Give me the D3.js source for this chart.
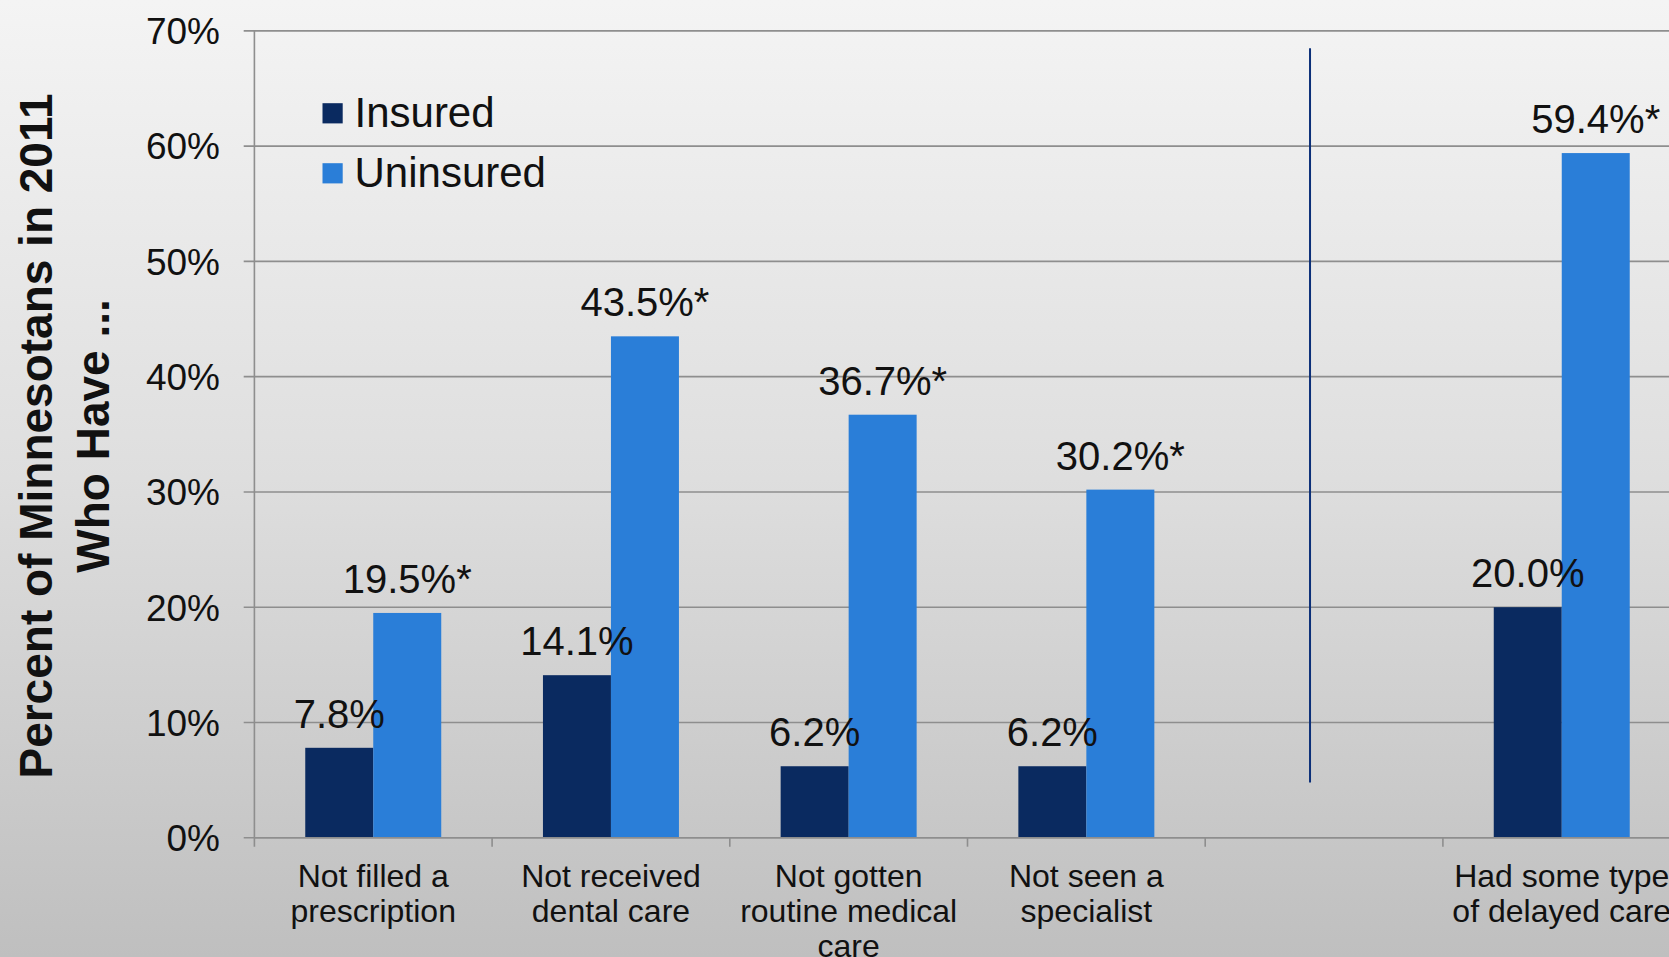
<!DOCTYPE html>
<html>
<head>
<meta charset="utf-8">
<script src="https://cdn.jsdelivr.net/npm/d3@7"></script>
<style>
html,body{margin:0;padding:0;overflow:hidden;background:#ddd;}
svg{display:block;}
text{font-family:"Liberation Sans",Arial,sans-serif;}
</style>
</head>
<body>
<script>
// ---- data ----
const categories = ["Not filled a prescription", "Not received dental care", "Not gotten routine medical care", "Not seen a specialist", "", "Had some type of delayed care"];
const series = ["Insured", "Uninsured"];
const insured = [0.078, 0.141, 0.062, 0.062, null, 0.200];
const uninsured = [0.195, 0.435, 0.367, 0.302, null, 0.594];
const insuredLabels = ["7.8%", "14.1%", "6.2%", "6.2%", "", "20.0%"];
const uninsuredLabels = ["19.5%*", "43.5%*", "36.7%*", "30.2%*", "", "59.4%*"];
const yTicks = [0, 0.1, 0.2, 0.3, 0.4, 0.5, 0.6, 0.7];
const yTitle = ["Percent of Minnesotans in 2011", "Who Have ..."];
const colors = {Insured: "#0a2a60", Uninsured: "#2a7ed8"};

// ---- layout ----
const W = 1669, H = 957;
const mLeft = 254.4, mTop = 30.9, mBottom = 837.7;
const step = 237.7;

const svg = d3.select("body").append("svg").attr("width", W).attr("height", H);
const defs = svg.append("defs");
const grad = defs.append("linearGradient").attr("id","bg").attr("x1",0).attr("y1",0).attr("x2",0).attr("y2",1);
grad.append("stop").attr("offset","0%").attr("stop-color","#f4f4f4");
grad.append("stop").attr("offset","50%").attr("stop-color","#dedede");
grad.append("stop").attr("offset","100%").attr("stop-color","#bfbfbf");
svg.append("rect").attr("width",W).attr("height",H).attr("fill","url(#bg)");

const x = d3.scaleBand().domain(d3.range(categories.length)).range([mLeft, mLeft + step*categories.length]).padding(0);
const x1 = d3.scaleBand().domain(series).range([0, x.bandwidth()]).paddingInner(0).paddingOuter(0.748);
const y = d3.scaleLinear().domain([0, 0.7]).range([mBottom, mTop]);

// gridlines
svg.append("g").selectAll("line").data(yTicks).join("line")
  .attr("x1", mLeft - 10.7).attr("x2", W)
  .attr("y1", d => y(d)).attr("y2", d => y(d))
  .attr("stroke", "#8e8e8e").attr("stroke-width", 1.6);

// y axis line
svg.append("line").attr("x1", mLeft).attr("x2", mLeft).attr("y1", y(0.7)).attr("y2", mBottom + 9)
  .attr("stroke", "#8e8e8e").attr("stroke-width", 1.6);

// category ticks
svg.append("g").selectAll("line").data(d3.range(1, categories.length)).join("line")
  .attr("x1", d => x(d)).attr("x2", d => x(d)).attr("y1", mBottom).attr("y2", mBottom + 9)
  .attr("stroke", "#8e8e8e").attr("stroke-width", 1.6);

// y tick labels
svg.append("g").selectAll("text").data(yTicks).join("text")
  .attr("x", 220).attr("y", d => y(d)).attr("dy", "0.36em")
  .attr("text-anchor", "end").attr("font-size", 37).attr("fill", "#111")
  .text(d => d3.format(".0%")(d));

// bars
const data = [];
categories.forEach((c, i) => {
  if (insured[i] != null) data.push({i, s: "Insured", v: insured[i], lab: insuredLabels[i]});
  if (uninsured[i] != null) data.push({i, s: "Uninsured", v: uninsured[i], lab: uninsuredLabels[i]});
});
svg.append("g").selectAll("rect").data(data).join("rect")
  .attr("x", d => x(d.i) + x1(d.s)).attr("width", x1.bandwidth())
  .attr("y", d => y(d.v)).attr("height", d => y(0) - y(d.v))
  .attr("fill", d => colors[d.s]);

// x axis baseline
svg.append("line").attr("x1", mLeft).attr("x2", W).attr("y1", mBottom).attr("y2", mBottom)
  .attr("stroke", "#8e8e8e").attr("stroke-width", 1.6);

// value labels
svg.append("g").selectAll("text").data(data).join("text")
  .attr("x", d => x(d.i) + x1(d.s) + x1.bandwidth()/2)
  .attr("y", d => y(d.v) - 20)
  .attr("text-anchor", "middle").attr("font-size", 40).attr("fill", "#111")
  .text(d => d.lab);

// divider line
svg.append("line")
  .attr("x1", x(4) + x.bandwidth()*0.441).attr("x2", x(4) + x.bandwidth()*0.441)
  .attr("y1", y(0.685)).attr("y2", y(0.048))
  .attr("stroke", "#0b2f78").attr("stroke-width", 2);

// category labels with wrapping
const catG = svg.append("g");
categories.forEach((c, i) => {
  const cx = x(i) + x.bandwidth()/2;
  const t = catG.append("text").attr("text-anchor", "middle").attr("font-size", 32).attr("fill", "#111")
    .attr("x", cx).attr("y", 886.7);
  const words = c.split(" ").filter(w => w.length);
  let line = [];
  let ts = t.append("tspan").attr("x", cx).attr("dy", 0);
  words.forEach(w => {
    line.push(w);
    ts.text(line.join(" "));
    if (ts.node().getComputedTextLength() > 232 && line.length > 1) {
      line.pop();
      ts.text(line.join(" "));
      line = [w];
      ts = t.append("tspan").attr("x", cx).attr("dy", 35).text(w);
    }
  });
});

// legend
const lg = svg.append("g");
series.forEach((s, k) => {
  const cy = 113.3 + k*60;
  lg.append("rect").attr("x", 322.5).attr("y", cy - 10.1).attr("width", 20.2).attr("height", 20.2).attr("fill", colors[s]);
  lg.append("text").attr("x", 354.5).attr("y", cy + 14).attr("font-size", 42).attr("fill", "#111").text(s);
});

// y title
const tt = svg.append("text").attr("transform", "translate(0,436) rotate(-90)")
  .attr("text-anchor", "middle").attr("font-size", 46).attr("font-weight", "bold").attr("fill", "#111");
tt.append("tspan").attr("x", 0).attr("y", 52).text(yTitle[0]);
tt.append("tspan").attr("x", 0).attr("y", 109).text(yTitle[1]);
</script>
</body>
</html>
